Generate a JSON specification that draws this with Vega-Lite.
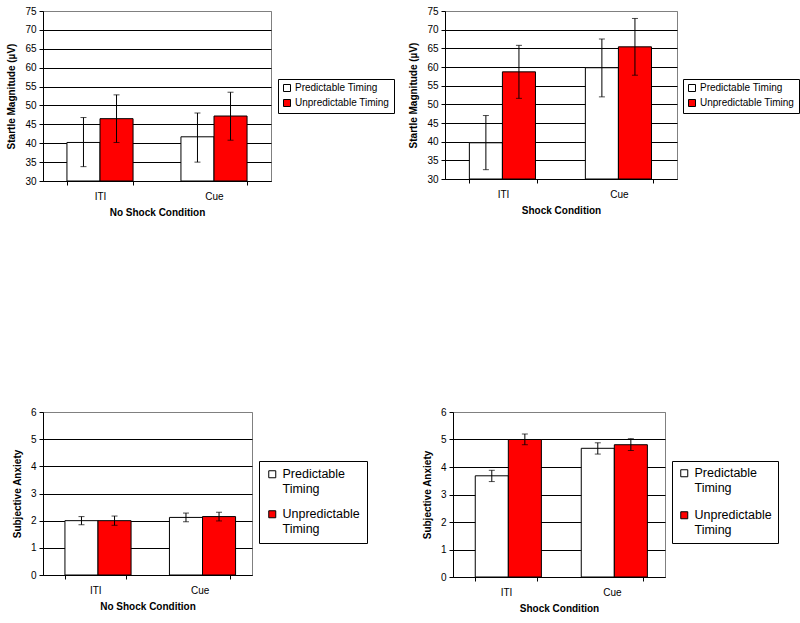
{
  "$schema": "https://vega.github.io/schema/vega-lite/v6.json",
  "padding": {"left": 6, "top": 5, "right": 0, "bottom": 0},
  "background": "white",
  "datasets": {
    "d": [
      {"panel": "A", "cond": "ITI", "timing": "Predictable Timing", "mean": 40.2, "lo": 33.8, "hi": 46.8},
      {"panel": "A", "cond": "ITI", "timing": "Unpredictable Timing", "mean": 46.5, "lo": 40.2, "hi": 52.8},
      {"panel": "A", "cond": "Cue", "timing": "Predictable Timing", "mean": 41.7, "lo": 35.0, "hi": 48.0},
      {"panel": "A", "cond": "Cue", "timing": "Unpredictable Timing", "mean": 47.2, "lo": 40.8, "hi": 53.5},
      {"panel": "B", "cond": "ITI", "timing": "Predictable Timing", "mean": 39.7, "lo": 32.5, "hi": 47.0},
      {"panel": "B", "cond": "ITI", "timing": "Unpredictable Timing", "mean": 58.7, "lo": 51.6, "hi": 65.8},
      {"panel": "B", "cond": "Cue", "timing": "Predictable Timing", "mean": 59.8, "lo": 52.0, "hi": 67.5},
      {"panel": "B", "cond": "Cue", "timing": "Unpredictable Timing", "mean": 65.4, "lo": 57.8, "hi": 73.0},
      {"panel": "C", "cond": "ITI", "timing": "Predictable Timing", "mean": 2.0, "lo": 1.85, "hi": 2.15},
      {"panel": "C", "cond": "ITI", "timing": "Unpredictable Timing", "mean": 2.0, "lo": 1.83, "hi": 2.17},
      {"panel": "C", "cond": "Cue", "timing": "Predictable Timing", "mean": 2.12, "lo": 1.96, "hi": 2.28},
      {"panel": "C", "cond": "Cue", "timing": "Unpredictable Timing", "mean": 2.15, "lo": 1.99, "hi": 2.31},
      {"panel": "D", "cond": "ITI", "timing": "Predictable Timing", "mean": 3.68, "lo": 3.47, "hi": 3.88},
      {"panel": "D", "cond": "ITI", "timing": "Unpredictable Timing", "mean": 5.0, "lo": 4.81, "hi": 5.2},
      {"panel": "D", "cond": "Cue", "timing": "Predictable Timing", "mean": 4.68, "lo": 4.47, "hi": 4.88},
      {"panel": "D", "cond": "Cue", "timing": "Unpredictable Timing", "mean": 4.81, "lo": 4.6, "hi": 5.03}
    ]
  },
  "config": {
    "font": "Liberation Sans",
    "view": {"stroke": "#808080", "strokeWidth": 1},
    "axis": {
      "labelFont": "Liberation Sans", "labelFontSize": 10, "labelColor": "#000",
      "titleFont": "Liberation Sans", "titleFontSize": 10, "titleFontWeight": "bold", "titleColor": "#000",
      "domainColor": "#000", "tickColor": "#000", "tickSize": 4, "labelOverlap": false,
      "gridColor": {"condition": {"test": "datum.index == 1", "value": "#808080"}, "value": "#000"},
      "gridOpacity": 1
    },
    "axisX": {"grid": false, "labelAngle": 0, "tickBand": "extent", "labelPadding": 6, "titlePadding": 6},
    "axisY": {"grid": true, "titlePadding": 8, "labelPadding": 3},
    "legend": {
      "orient": "none", "strokeColor": "#000", "strokeWidth": 1, "padding": 4, "fillColor": "#fff",
      "labelFont": "Liberation Sans", "labelFontSize": 10, "labelColor": "#000",
      "symbolType": "square", "symbolSize": 49, "symbolStrokeColor": "#000", "symbolStrokeWidth": 1,
      "rowPadding": 3, "labelOffset": 3
    }
  },
  "resolve": {"scale": {"fill": "independent"}, "legend": {"fill": "independent"}},
  "columns": 1,
  "align": "none",
  "spacing": 188,
  "concat": [
    {
      "spacing": 13,
      "resolve": {"scale": {"fill": "independent"}, "legend": {"fill": "independent"}},
      "hconcat": [
        {
          "width": 228, "height": 170,
          "data": {"name": "d"},
          "transform": [{"filter": "datum.panel == 'A'"}],
          "encoding": {
            "x": {"field": "cond", "type": "nominal", "sort": ["ITI", "Cue"], "title": "No Shock Condition", "scale": {"paddingInner": 0.42, "paddingOuter": 0.21}},
            "xOffset": {"field": "timing", "type": "nominal", "sort": ["Predictable Timing", "Unpredictable Timing"]}
          },
          "layer": [
            {
              "mark": {"type": "bar", "stroke": "#000", "strokeWidth": 1},
              "encoding": {
                "y": {"field": "mean", "type": "quantitative", "title": "Startle Magnitude (µV)", "scale": {"domain": [30, 75], "nice": false, "zero": false}, "axis": {"values": [30, 35, 40, 45, 50, 55, 60, 65, 70, 75]}},
                "y2": {"datum": 30},
                "fill": {"field": "timing", "type": "nominal", "scale": {"domain": ["Predictable Timing", "Unpredictable Timing"], "range": ["#ffffff", "#ff0000"]}, "legend": {"title": null, "legendX": 235, "legendY": 68}}
              }
            },
            {"mark": {"type": "rule", "color": "#000", "strokeWidth": 1}, "encoding": {"y": {"field": "lo", "type": "quantitative", "title": "Startle Magnitude (µV)", "axis": {"values": [30, 35, 40, 45, 50, 55, 60, 65, 70, 75]}}, "y2": {"field": "hi"}}},
            {"mark": {"type": "tick", "color": "#000", "size": 6, "thickness": 1}, "encoding": {"y": {"field": "lo", "type": "quantitative", "title": "Startle Magnitude (µV)", "axis": {"values": [30, 35, 40, 45, 50, 55, 60, 65, 70, 75]}}}},
            {"mark": {"type": "tick", "color": "#000", "size": 6, "thickness": 1}, "encoding": {"y": {"field": "hi", "type": "quantitative", "title": "Startle Magnitude (µV)", "axis": {"values": [30, 35, 40, 45, 50, 55, 60, 65, 70, 75]}}}}
          ]
        },
        {
          "width": 232, "height": 168,
          "data": {"name": "d"},
          "transform": [{"filter": "datum.panel == 'B'"}],
          "encoding": {
            "x": {"field": "cond", "type": "nominal", "sort": ["ITI", "Cue"], "title": "Shock Condition", "scale": {"paddingInner": 0.42, "paddingOuter": 0.21}},
            "xOffset": {"field": "timing", "type": "nominal", "sort": ["Predictable Timing", "Unpredictable Timing"]}
          },
          "layer": [
            {
              "mark": {"type": "bar", "stroke": "#000", "strokeWidth": 1},
              "encoding": {
                "y": {"field": "mean", "type": "quantitative", "title": "Startle Magnitude (µV)", "scale": {"domain": [30, 75], "nice": false, "zero": false}, "axis": {"values": [30, 35, 40, 45, 50, 55, 60, 65, 70, 75]}},
                "y2": {"datum": 30},
                "fill": {"field": "timing", "type": "nominal", "scale": {"domain": ["Predictable Timing", "Unpredictable Timing"], "range": ["#ffffff", "#ff0000"]}, "legend": {"title": null, "legendX": 238, "legendY": 68}}
              }
            },
            {"mark": {"type": "rule", "color": "#000", "strokeWidth": 1}, "encoding": {"y": {"field": "lo", "type": "quantitative", "title": "Startle Magnitude (µV)", "axis": {"values": [30, 35, 40, 45, 50, 55, 60, 65, 70, 75]}}, "y2": {"field": "hi"}}},
            {"mark": {"type": "tick", "color": "#000", "size": 6, "thickness": 1}, "encoding": {"y": {"field": "lo", "type": "quantitative", "title": "Startle Magnitude (µV)", "axis": {"values": [30, 35, 40, 45, 50, 55, 60, 65, 70, 75]}}}},
            {"mark": {"type": "tick", "color": "#000", "size": 6, "thickness": 1}, "encoding": {"y": {"field": "hi", "type": "quantitative", "title": "Startle Magnitude (µV)", "axis": {"values": [30, 35, 40, 45, 50, 55, 60, 65, 70, 75]}}}}
          ]
        }
      ]
    },
    {
      "spacing": 53,
      "resolve": {"scale": {"fill": "independent"}, "legend": {"fill": "independent"}},
      "hconcat": [
        {
          "width": 209, "height": 163,
          "data": {"name": "d"},
          "transform": [{"filter": "datum.panel == 'C'"}],
          "encoding": {
            "x": {"field": "cond", "type": "nominal", "sort": ["ITI", "Cue"], "title": "No Shock Condition", "scale": {"paddingInner": 0.42, "paddingOuter": 0.21}},
            "xOffset": {"field": "timing", "type": "nominal", "sort": ["Predictable Timing", "Unpredictable Timing"]}
          },
          "layer": [
            {
              "mark": {"type": "bar", "stroke": "#000", "strokeWidth": 1},
              "encoding": {
                "y": {"field": "mean", "type": "quantitative", "title": "Subjective Anxiety", "scale": {"domain": [0, 6], "nice": false}, "axis": {"values": [0, 1, 2, 3, 4, 5, 6]}},
                "y2": {"datum": 0},
                "fill": {"field": "timing", "type": "nominal", "scale": {"domain": ["Predictable Timing", "Unpredictable Timing"], "range": ["#ffffff", "#ff0000"]}, "legend": {"title": null, "legendX": 216, "legendY": 49, "labelFontSize": 12.5, "labelExpr": "split(datum.label, ' ')", "rowPadding": 12, "padding": 7, "labelOffset": 4}}
              }
            },
            {"mark": {"type": "rule", "color": "#000", "strokeWidth": 1}, "encoding": {"y": {"field": "lo", "type": "quantitative", "title": "Subjective Anxiety", "axis": {"values": [0, 1, 2, 3, 4, 5, 6]}}, "y2": {"field": "hi"}}},
            {"mark": {"type": "tick", "color": "#000", "size": 6, "thickness": 1}, "encoding": {"y": {"field": "lo", "type": "quantitative", "title": "Subjective Anxiety", "axis": {"values": [0, 1, 2, 3, 4, 5, 6]}}}},
            {"mark": {"type": "tick", "color": "#000", "size": 6, "thickness": 1}, "encoding": {"y": {"field": "hi", "type": "quantitative", "title": "Subjective Anxiety", "axis": {"values": [0, 1, 2, 3, 4, 5, 6]}}}}
          ]
        },
        {
          "width": 212, "height": 165,
          "data": {"name": "d"},
          "transform": [{"filter": "datum.panel == 'D'"}],
          "encoding": {
            "x": {"field": "cond", "type": "nominal", "sort": ["ITI", "Cue"], "title": "Shock Condition", "scale": {"paddingInner": 0.42, "paddingOuter": 0.21}},
            "xOffset": {"field": "timing", "type": "nominal", "sort": ["Predictable Timing", "Unpredictable Timing"]}
          },
          "layer": [
            {
              "mark": {"type": "bar", "stroke": "#000", "strokeWidth": 1},
              "encoding": {
                "y": {"field": "mean", "type": "quantitative", "title": "Subjective Anxiety", "scale": {"domain": [0, 6], "nice": false}, "axis": {"values": [0, 1, 2, 3, 4, 5, 6]}},
                "y2": {"datum": 0},
                "fill": {"field": "timing", "type": "nominal", "scale": {"domain": ["Predictable Timing", "Unpredictable Timing"], "range": ["#ffffff", "#ff0000"]}, "legend": {"title": null, "legendX": 219, "legendY": 49, "labelFontSize": 12.5, "labelExpr": "split(datum.label, ' ')", "rowPadding": 14, "padding": 6, "labelOffset": 4}}
              }
            },
            {"mark": {"type": "rule", "color": "#000", "strokeWidth": 1}, "encoding": {"y": {"field": "lo", "type": "quantitative", "title": "Subjective Anxiety", "axis": {"values": [0, 1, 2, 3, 4, 5, 6]}}, "y2": {"field": "hi"}}},
            {"mark": {"type": "tick", "color": "#000", "size": 6, "thickness": 1}, "encoding": {"y": {"field": "lo", "type": "quantitative", "title": "Subjective Anxiety", "axis": {"values": [0, 1, 2, 3, 4, 5, 6]}}}},
            {"mark": {"type": "tick", "color": "#000", "size": 6, "thickness": 1}, "encoding": {"y": {"field": "hi", "type": "quantitative", "title": "Subjective Anxiety", "axis": {"values": [0, 1, 2, 3, 4, 5, 6]}}}}
          ]
        }
      ]
    }
  ]
}
